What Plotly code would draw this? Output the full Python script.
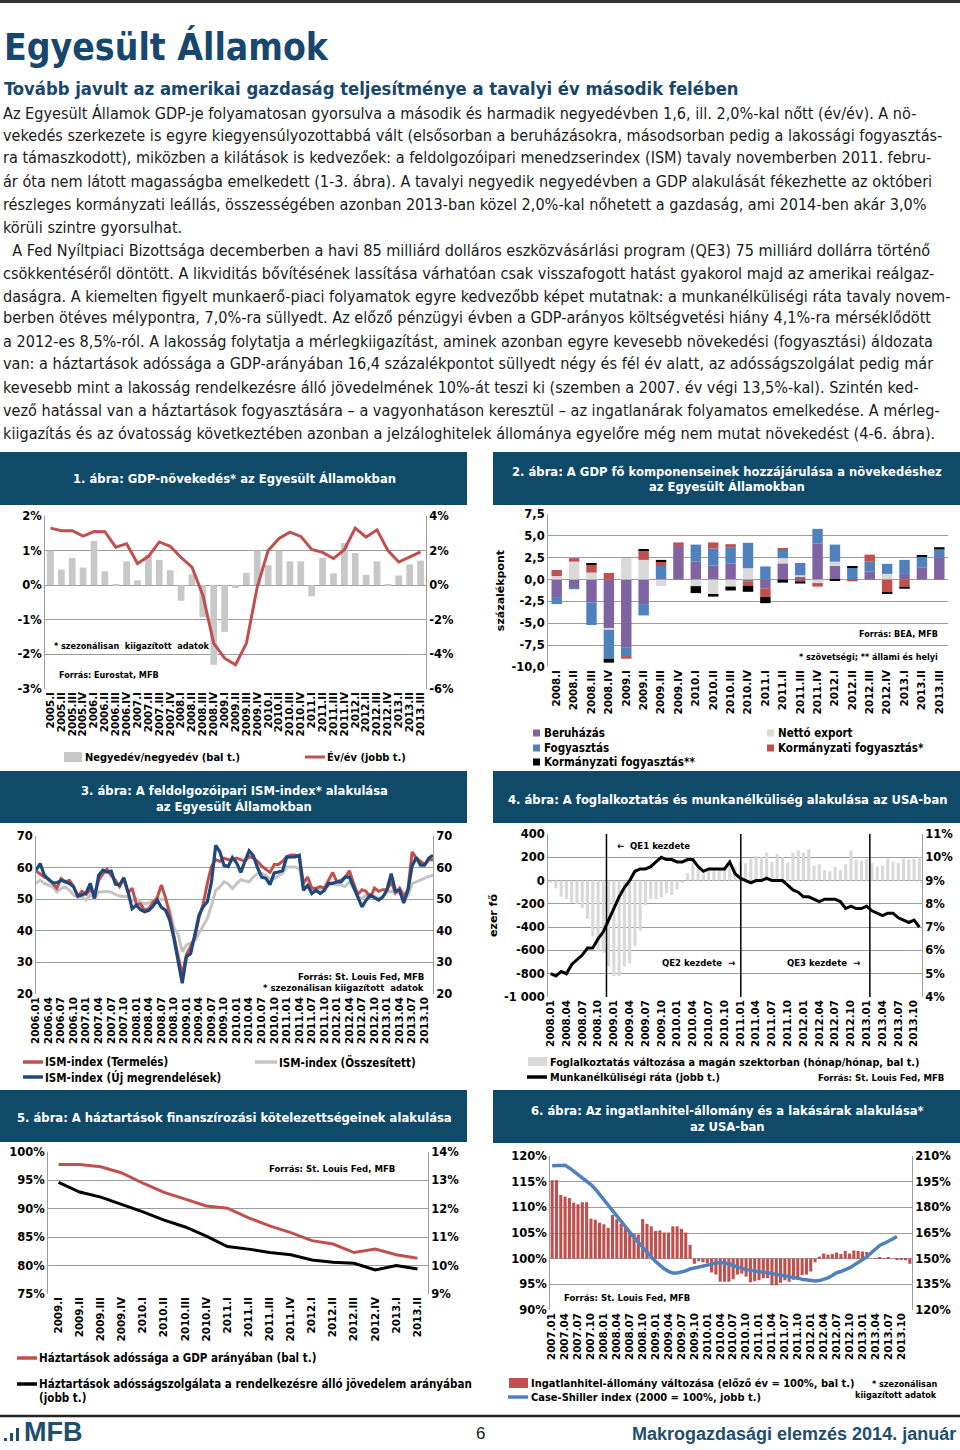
import plotly.graph_objects as go

W, H = 960, 1450
def X(p): return p / W
def Y(p): return 1 - p / H

# ------------------------------------------------------------------ data
# 1. GDP growth
gdp_quarters = ["2005.I","2005.II","2005.III","2005.IV","2006.I","2006.II","2006.III","2006.IV",
                "2007.I","2007.II","2007.III","2007.IV","2008.I","2008.II","2008.III","2008.IV",
                "2009.I","2009.II","2009.III","2009.IV","2010.I","2010.II","2010.III","2010.IV",
                "2011.I","2011.II","2011.III","2011.IV","2012.I","2012.II","2012.III","2012.IV",
                "2013.I","2013.II","2013.III"]
gdp_qoq = [1.0,0.45,0.79,0.51,1.28,0.40,0.03,0.69,0.14,0.88,0.73,0.43,-0.45,0.32,-0.92,-2.30,
           -1.35,-0.08,0.36,1.00,0.58,1.00,0.69,0.69,-0.32,0.79,0.34,1.22,0.93,0.30,0.69,0.02,
           0.28,0.60,0.71]
gdp_yoy = [3.3,3.15,3.15,2.84,3.1,3.09,2.2,2.4,1.25,1.67,2.5,2.25,1.6,1.05,-0.58,-3.36,
           -4.22,-4.6,-3.36,-0.1,2.0,2.7,3.07,2.82,2.07,1.9,1.54,2.05,3.3,2.78,3.2,2.0,
           1.34,1.63,1.92]

# 2. GDP components
comp_quarters = ["2008.I","2008.II","2008.III","2008.IV","2009.I","2009.II","2009.III","2009.IV",
                 "2010.I","2010.II","2010.III","2010.IV","2011.I","2011.II","2011.III","2011.IV",
                 "2012.I","2012.II","2012.III","2012.IV","2013.I","2013.II","2013.III"]
beruhazas = [-2.0,-0.9,-2.6,-5.6,-7.8,-2.8,0.1,3.85,2.05,1.6,1.85,-0.2,-1.0,1.85,0.4,4.1,
             1.55,0.0,0.9,0.0,0.65,1.4,2.55]
netto_export = [0.4,2.05,0.8,-0.15,2.45,2.25,-0.75,0.0,-0.75,-1.65,-0.8,1.3,0.0,0.6,0.1,-0.4,
                0.5,0.0,0.0,0.65,0.0,0.0,0.0]
fogyasztas = [-0.8,-0.2,-2.6,-3.3,-0.95,-1.3,1.45,0.0,1.95,1.95,1.85,2.9,1.5,0.95,1.4,1.7,
              1.95,1.4,1.15,1.15,1.6,1.2,0.9]
korm_szov = [0.7,0.4,0.9,0.75,-0.3,1.05,0.45,0.4,0.0,0.7,0.35,-0.5,-1.0,0.2,-0.2,-0.4,
             0.0,-0.2,0.8,-1.5,-0.8,0.0,0.0]
korm_allami = [0.0,0.0,0.1,-0.45,0.0,0.1,0.25,0.0,-0.8,-0.3,-0.45,-0.7,-0.7,-0.35,-0.25,0.0,
               -0.15,0.08,0.0,-0.15,-0.25,0.1,0.25]

# 3. ISM (monthly 2006.01 - 2013.12)
ism_ticklabels = ["2006.01","2006.04","2006.07","2006.10","2007.01","2007.04","2007.07","2007.10",
                  "2008.01","2008.04","2008.07","2008.10","2009.01","2009.04","2009.07","2009.10",
                  "2010.01","2010.04","2010.07","2010.10","2011.01","2011.04","2011.07","2011.10",
                  "2012.01","2012.04","2012.07","2012.10","2013.01","2013.04","2013.07","2013.10"]
ism_osszesitett = [55.0,56.0,55.0,54.4,53.9,52.3,53.4,53.9,52.8,51.3,50.7,50.8,
                   49.7,51.3,50.2,52.3,52.4,52.4,52.3,51.5,51.0,50.9,50.8,49.5,
                   50.2,49.0,48.6,48.8,49.5,50.0,50.0,49.8,46.5,41.0,38.9,33.4,
                   35.5,36.0,36.9,39.2,41.5,43.9,48.1,52.8,53.9,55.5,54.9,53.4,
                   54.9,56.2,55.8,55.5,57.0,58.1,58.2,57.6,56.2,56.5,57.5,58.1,
                   60.2,60.3,60.2,59.7,53.9,54.2,52.8,52.6,53.2,53.9,54.2,54.9,
                   54.5,54.5,54.0,55.5,53.4,50.7,50.2,51.3,51.2,50.9,50.2,50.9,
                   52.3,52.5,52.3,51.8,49.9,51.3,54.9,55.5,56.2,56.8,57.2,57.6]
ism_termeles = [59.0,58.0,57.0,56.5,55.0,53.5,56.5,55.5,56.0,54.0,51.0,52.5,
                51.5,53.0,51.5,56.0,58.0,59.5,57.5,56.0,54.0,56.5,52.0,53.5,
                48.5,48.5,46.5,47.0,49.0,50.5,54.5,50.5,45.0,38.0,32.0,26.0,
                32.5,35.0,38.0,44.0,48.5,55.0,60.5,62.5,62.0,63.0,62.5,62.5,
                63.0,62.5,62.0,63.5,63.0,62.0,60.5,59.5,58.5,61.0,61.0,62.0,
                63.5,64.0,64.0,63.5,55.0,57.0,53.5,53.5,54.0,53.5,56.0,58.5,
                55.5,56.0,57.0,59.0,55.0,51.5,53.0,52.5,50.5,53.5,52.5,53.0,
                53.0,55.5,52.0,53.5,51.0,53.0,65.0,63.0,62.0,61.0,62.5,62.5]
ism_uj_megrend = [59.2,61.3,57.6,56.2,55.2,55.2,56.0,55.5,55.0,53.9,51.0,51.3,
                  52.0,55.0,50.2,57.6,59.2,58.6,58.9,54.8,54.5,56.8,52.5,47.0,
                  48.1,46.7,46.0,46.5,47.8,49.7,47.4,46.5,43.4,37.6,30.7,23.4,
                  31.8,32.8,38.6,45.0,47.6,49.2,55.5,67.0,65.0,60.7,60.3,63.2,
                  61.5,58.5,62.0,65.3,63.8,60.0,57.0,56.6,54.6,58.3,58.6,59.0,
                  63.3,63.3,63.4,63.9,52.8,54.4,51.8,52.8,51.8,52.8,55.0,55.0,
                  55.5,55.5,57.0,57.0,53.9,50.2,47.6,49.7,51.3,50.5,49.7,50.7,
                  53.0,58.1,52.6,52.8,48.8,52.8,60.5,63.2,60.8,60.8,63.0,63.9]

# 4. Employment (monthly 2008.01 - 2013.11)
emp_ticklabels = ["2008.01","2008.04","2008.07","2008.10","2009.01","2009.04","2009.07","2009.10",
                  "2010.01","2010.04","2010.07","2010.10","2011.01","2011.04","2011.07","2011.10",
                  "2012.01","2012.04","2012.07","2012.10","2013.01","2013.04","2013.07","2013.10"]
foglalkoztatas = [-20,-67,-138,-158,-190,-201,-235,-330,-480,-610,-620,-740,
                  -820,-820,-740,-710,-560,-430,-210,-160,-160,-145,-110,-125,
                  -75,-20,65,200,140,60,90,90,105,100,140,120,
                  160,150,190,210,200,240,160,230,200,155,240,260,
                  240,270,130,140,90,80,120,90,140,260,180,170,
                  190,150,120,130,190,160,150,190,180,190,200]
munkanelkuli = [5.0,4.9,5.1,5.0,5.4,5.6,5.8,6.1,6.1,6.5,6.8,7.3,
                7.8,8.3,8.7,9.0,9.4,9.5,9.5,9.6,9.8,10.0,9.9,9.9,
                9.8,9.8,9.9,9.9,9.6,9.4,9.5,9.5,9.5,9.5,9.8,9.3,
                9.1,9.0,8.9,9.0,9.0,9.1,9.0,9.0,9.0,8.8,8.6,8.5,
                8.3,8.3,8.2,8.1,8.2,8.2,8.2,8.1,7.8,7.9,7.8,7.8,
                7.9,7.7,7.6,7.5,7.6,7.6,7.4,7.3,7.2,7.3,7.0]
qe_positions = [10.6, 36.1, 60.6]

# 5. Household debt
hh_quarters = ["2009.I","2009.II","2009.III","2009.IV","2010.I","2010.II","2010.III","2010.IV",
               "2011.I","2011.II","2011.III","2011.IV","2012.I","2012.II","2012.III","2012.IV",
               "2013.I","2013.II"]
hh_adossag = [97.8,97.8,97.4,96.3,94.5,92.9,91.7,90.5,90.1,88.4,87.0,85.8,84.4,83.8,82.3,82.9,81.9,81.3]
hh_adossagszolg = [12.93,12.59,12.41,12.15,11.89,11.60,11.36,11.04,10.67,10.58,10.46,10.38,
                   10.20,10.12,10.08,9.85,10.0,9.88]

# 6. Mortgage stock and house prices (monthly 2007.01 - 2013.12)
house_ticklabels = ["2007.01","2007.04","2007.07","2007.10","2008.01","2008.04","2008.07","2008.10",
                    "2009.01","2009.04","2009.07","2009.10","2010.01","2010.04","2010.07","2010.10",
                    "2011.01","2011.04","2011.07","2011.10","2012.01","2012.04","2012.07","2012.10",
                    "2013.01","2013.04","2013.07","2013.10"]
ingatlanhitel = [115.3,115.3,112.4,112.1,111.8,110.9,110.6,111.0,111.0,107.8,107.6,107.0,
                 106.7,106.0,108.5,107.7,106.8,106.0,105.1,104.9,104.7,107.7,106.8,106.3,
                 105.4,105.5,105.1,105.1,106.3,106.3,105.8,105.1,102.7,99.0,99.5,99.3,
                 99.1,97.3,96.9,95.5,95.5,95.5,96.0,96.9,97.1,96.5,95.4,95.6,
                 95.8,96.2,96.2,94.8,94.8,95.3,95.8,95.5,95.9,96.2,96.8,96.9,
                 97.5,99.3,100.4,101.0,100.8,100.9,101.2,100.9,101.5,101.0,101.6,101.5,
                 101.4,101.3,100.0,100.1,100.3,100.1,100.2,100.0,99.9,99.8,99.7,99.0]
case_shiller = [204.3,204.4,204.6,204.6,203.0,201.0,199.1,197.4,195.5,193.3,190.7,187.5,
                184.6,181.5,177.8,174.3,171.3,168.6,165.5,162.5,159.5,156.8,153.9,151.0,
                148.4,146.2,144.1,142.6,141.6,141.6,142.0,142.9,144.0,144.6,145.2,145.8,
                146.6,147.0,147.4,147.7,147.6,147.0,146.0,145.0,144.3,143.6,143.1,142.7,
                142.3,142.0,141.8,141.4,141.0,140.6,140.2,139.7,139.2,138.6,138.0,137.5,
                137.1,136.9,137.2,137.8,138.8,140.2,141.8,142.5,143.3,144.6,146.1,147.6,
                149.2,151.0,153.3,155.8,157.7,158.9,160.0,161.5,163.0]

body_lines = [
    "Az Egyesült Államok GDP-je folyamatosan gyorsulva a második és harmadik negyedévben 1,6, ill. 2,0%-kal nőtt (év/év). A nö-",
    "vekedés szerkezete is egyre kiegyensúlyozottabbá vált (elsősorban a beruházásokra, másodsorban pedig a lakossági fogyasztás-",
    "ra támaszkodott), miközben a kilátások is kedvezőek: a feldolgozóipari menedzserindex (ISM) tavaly novemberben 2011. febru-",
    "ár óta nem látott magasságba emelkedett (1-3. ábra). A tavalyi negyedik negyedévben a GDP alakulását fékezhette az októberi",
    "részleges kormányzati leállás, összességében azonban 2013-ban közel 2,0%-kal nőhetett a gazdaság, ami 2014-ben akár 3,0%",
    "körüli szintre gyorsulhat.",
    "  A Fed Nyíltpiaci Bizottsága decemberben a havi 85 milliárd dolláros eszközvásárlási program (QE3) 75 milliárd dollárra történő",
    "csökkentéséről döntött. A likviditás bővítésének lassítása várhatóan csak visszafogott hatást gyakorol majd az amerikai reálgaz-",
    "daságra. A kiemelten figyelt munkaerő-piaci folyamatok egyre kedvezőbb képet mutatnak: a munkanélküliségi ráta tavaly novem-",
    "berben ötéves mélypontra, 7,0%-ra süllyedt. Az előző pénzügyi évben a GDP-arányos költségvetési hiány 4,1%-ra mérséklődött",
    "a 2012-es 8,5%-ról. A lakosság folytatja a mérlegkiigazítást, aminek azonban egyre kevesebb növekedési (fogyasztási) áldozata",
    "van: a háztartások adóssága a GDP-arányában 16,4 százalékpontot süllyedt négy és fél év alatt, az adósságszolgálat pedig már",
    "kevesebb mint a lakosság rendelkezésre álló jövedelmének 10%-át teszi ki (szemben a 2007. év végi 13,5%-kal). Szintén ked-",
    "vező hatással van a háztartások fogyasztására – a vagyonhatáson keresztül – az ingatlanárak folyamatos emelkedése. A mérleg-",
    "kiigazítás és az óvatosság következtében azonban a jelzáloghitelek állománya egyelőre még nem mutat növekedést (4-6. ábra).",
]
body_y = [113, 136, 158, 181, 204, 227, 250, 273, 296, 318, 341, 364, 387, 410, 433]

# ------------------------------------------------------------------ style
BANNER = "#0f4a69"
HEAD = "#17476c"
GRID = "#9c9c9c"
RED = "#c0504d"
CF = "DejaVu Sans, Verdana, sans-serif"
COND = "DejaVu Sans Condensed, DejaVu Sans, sans-serif"
SANS = "Liberation Sans, Arial, sans-serif"

shapes, annotations = [], []

def txt(x, y, s, size=11, color="black", anchor="left", family=COND, bold=True):
    annotations.append(dict(x=X(x), y=Y(y), xref="paper", yref="paper",
                            text=("<b>%s</b>" % s) if bold else s, showarrow=False,
                            xanchor=anchor, yanchor="middle", align=anchor,
                            font=dict(size=size, color=color, family=family)))

def rect(x0, y0, x1, y1, color):
    shapes.append(dict(type="rect", xref="paper", yref="paper", x0=X(x0), x1=X(x1),
                       y0=Y(y1), y1=Y(y0), fillcolor=color, line=dict(width=0), layer="below"))

def hline(x0, x1, y, color, width):
    shapes.append(dict(type="line", xref="paper", yref="paper", x0=X(x0), x1=X(x1),
                       y0=Y(y), y1=Y(y), line=dict(color=color, width=width)))

def banner(x0, y0, x1, y1, lines, ys, cx):
    rect(x0, y0, x1, y1, BANNER)
    for s, yy in zip(lines, ys):
        txt(cx, yy, s, size=12.9, color="white", anchor="center")

def bold_list(lst):
    return ["<b>%s</b>" % s for s in lst]

def xcat(domain, anchor, rng, tickvals, ticktext):
    return dict(domain=[X(domain[0]), X(domain[1])], anchor=anchor, range=rng,
                tickmode="array", tickvals=tickvals, ticktext=bold_list(ticktext),
                tickangle=-90, tickfont=dict(size=10.3, family=CF, color="black"),
                showgrid=False, zeroline=False, showline=False, ticks="", automargin=False)

def yleft(domain, anchor, rng, vals, texts, title=None):
    d = dict(domain=[Y(domain[1]), Y(domain[0])], anchor=anchor, range=rng,
             tickmode="array", tickvals=vals, ticktext=bold_list(texts),
             tickfont=dict(size=11.5, family=CF, color="black"),
             showgrid=True, gridcolor=GRID, gridwidth=1, zeroline=False,
             showline=True, linecolor=GRID, linewidth=1, ticks="", automargin=False)
    if title:
        d["title"] = dict(text="<b>%s</b>" % title, font=dict(size=11, family=CF, color="black"), standoff=4)
    return d

def yright(overlay, anchor, rng, vals, texts):
    return dict(overlaying=overlay, side="right", anchor=anchor, range=rng,
                tickmode="array", tickvals=vals, ticktext=bold_list(texts),
                tickfont=dict(size=11.5, family=CF, color="black"),
                showgrid=False, zeroline=False, showline=True, linecolor=GRID, linewidth=1,
                ticks="", automargin=False)

fig = go.Figure()

# ------------------------------------------------------------------ header
hline(0, 960, 1.5, "#333333", 3)
txt(2, 47, "Egyesült Államok", size=37, color=HEAD)
txt(2, 89, "Tovább javult az amerikai gazdaság teljesítménye a tavalyi év második felében", size=18.3, color=HEAD)
for s, yy in zip(body_lines, body_y):
    txt(1, yy, s, size=16.1, color="#1a1a1a", bold=False)

# ------------------------------------------------------------------ chart 1
banner(0, 452, 467, 505, ["1. ábra: GDP-növekedés* az Egyesült Államokban"], [479], 234)
idx1 = list(range(len(gdp_quarters)))
fig.add_trace(go.Bar(x=idx1, y=gdp_qoq, xaxis="x", yaxis="y", marker=dict(color="#c8c8c8", line=dict(width=0)), width=0.62))
fig.add_trace(go.Scatter(x=idx1, y=gdp_yoy, xaxis="x", yaxis="y2", mode="lines", line=dict(color=RED, width=3)))
txt(52, 646, "* szezonálisan  kiigazított  adatok", size=9)
txt(57, 675, "Forrás: Eurostat, MFB", size=9)
rect(64, 752, 82, 762, "#c8c8c8")
txt(83, 757, "Negyedév/negyedév (bal t.)", size=11)
hline(305, 325, 757, RED, 3)
txt(325, 757, "Év/év (jobb t.)", size=11)

# ------------------------------------------------------------------ chart 2
banner(493, 452, 960, 505, ["2. ábra: A GDP fő komponenseinek hozzájárulása a növekedéshez",
                            "az Egyesült Államokban"], [471, 487], 727)
idx2 = list(range(len(comp_quarters)))
for vals, col in [(beruhazas, "#8064a2"), (netto_export, "#d9d9d9"), (fogyasztas, "#4f81bd"),
                  (korm_szov, RED), (korm_allami, "#000000")]:
    fig.add_trace(go.Bar(x=idx2, y=vals, xaxis="x2", yaxis="y3", width=0.6,
                         marker=dict(color=col, line=dict(width=0))))
txt(940, 634, "Forrás: BEA, MFB", size=9, anchor="right")
txt(940, 657, "* szövetségi; ** állami és helyi", size=9, anchor="right")
leg2 = [(533, 733, "#8064a2", "Beruházás"), (767, 733, "#d9d9d9", "Nettó export"),
        (533, 748, "#4f81bd", "Fogyasztás"), (767, 748, RED, "Kormányzati fogyasztás*"),
        (533, 762, "#000000", "Kormányzati fogyasztás**")]
for lx, ly, col, lab in leg2:
    rect(lx, ly - 3.5, lx + 7, ly + 3.5, col)
    txt(lx + 9, ly, lab, size=11.5)

# ------------------------------------------------------------------ chart 3
banner(0, 771, 467, 823, ["3. ábra: A feldolgozóipari ISM-index* alakulása", "az Egyesült Államokban"], [790, 806], 234)
idx3 = list(range(len(ism_osszesitett)))
fig.add_trace(go.Scatter(x=idx3, y=ism_osszesitett, xaxis="x3", yaxis="y4", mode="lines", line=dict(color="#c4c4c4", width=3)))
fig.add_trace(go.Scatter(x=idx3, y=ism_termeles, xaxis="x3", yaxis="y4", mode="lines", line=dict(color=RED, width=3)))
fig.add_trace(go.Scatter(x=idx3, y=ism_uj_megrend, xaxis="x3", yaxis="y5", mode="lines", line=dict(color="#1f497d", width=3.2)))
txt(426, 976, "Forrás: St. Louis Fed, MFB", size=9.5, anchor="right")
txt(426, 987, "* szezonálisan kiigazított  adatok", size=9.5, anchor="right")
hline(23, 43, 1062, RED, 3.5)
txt(43, 1062, "ISM-index (Termelés)", size=11.5)
hline(255, 277, 1062, "#c4c4c4", 3.5)
txt(277, 1062, "ISM-index (Összesített)", size=11.5)
hline(23, 43, 1077, "#1f497d", 3.5)
txt(43, 1077, "ISM-index (Új megrendelések)", size=11.5)

# ------------------------------------------------------------------ chart 4
banner(493, 771, 960, 823, ["4. ábra: A foglalkoztatás és munkanélküliség alakulása az USA-ban"], [799], 727)
idx4 = list(range(len(munkanelkuli)))
fig.add_trace(go.Bar(x=idx4, y=foglalkoztatas, xaxis="x4", yaxis="y6", width=0.6,
                     marker=dict(color="#d9d9d9", line=dict(width=0))))
fig.add_trace(go.Scatter(x=idx4, y=munkanelkuli, xaxis="x4", yaxis="y7", mode="lines", line=dict(color="black", width=3)))
for q in qe_positions:
    shapes.append(dict(type="line", xref="x4", yref="y6 domain", x0=q, x1=q, y0=0, y1=1,
                       line=dict(color="black", width=1.5), layer="above"))
txt(615, 845, "←  QE1 kezdete", size=9.5)
txt(660, 963, "QE2 kezdete  →", size=9.5)
txt(785, 963, "QE3 kezdete  →", size=9.5)
rect(528, 1057, 547, 1066, "#d9d9d9")
txt(548, 1062, "Foglalkoztatás változása a magán szektorban (hónap/hónap, bal t.)", size=10.8)
hline(527, 547, 1077, "black", 3.5)
txt(548, 1077, "Munkanélküliségi ráta (jobb t.)", size=10.8)
txt(946, 1077, "Forrás: St. Louis Fed, MFB", size=9.5, anchor="right")

# ------------------------------------------------------------------ chart 5
banner(0, 1090, 467, 1142, ["5. ábra: A háztartások finanszírozási kötelezettségeinek alakulása"], [1117], 234)
idx5 = list(range(len(hh_quarters)))
fig.add_trace(go.Scatter(x=idx5, y=hh_adossag, xaxis="x5", yaxis="y8", mode="lines", line=dict(color=RED, width=3)))
fig.add_trace(go.Scatter(x=idx5, y=hh_adossagszolg, xaxis="x5", yaxis="y9", mode="lines", line=dict(color="black", width=3)))
txt(267, 1168, "Forrás: St. Louis Fed, MFB", size=9.5)
hline(17, 37, 1358, RED, 3.5)
txt(37, 1358, "Háztartások adóssága a GDP arányában (bal t.)", size=11.5)
hline(17, 37, 1384, "black", 3.5)
txt(37, 1384, "Háztartások adósságszolgálata a rendelkezésre álló jövedelem arányában", size=11.5)
txt(37, 1398, "(jobb t.)", size=11.5)

# ------------------------------------------------------------------ chart 6
banner(493, 1090, 960, 1143, ["6. ábra: Az ingatlanhitel-állomány és a lakásárak alakulása*", "az USA-ban"], [1110, 1126], 727)
idx6 = list(range(len(ingatlanhitel)))
fig.add_trace(go.Bar(x=idx6, y=[v - 100 for v in ingatlanhitel], base=100, xaxis="x6", yaxis="y10", width=0.72,
                     marker=dict(color=RED, line=dict(width=0))))
fig.add_trace(go.Scatter(x=list(range(len(case_shiller))), y=case_shiller, xaxis="x6", yaxis="y11", mode="lines",
                         line=dict(color="#4f81bd", width=3.5)))
txt(562, 1297, "Forrás: St. Louis Fed, MFB", size=9.5)
rect(509, 1378, 528, 1388, RED)
txt(529, 1383, "Ingatlanhitel-állomány változása (előző év = 100%, bal t.)", size=11)
hline(508, 528, 1397, "#4f81bd", 3.5)
txt(529, 1397, "Case-Shiller index (2000 = 100%, jobb t.)", size=11)
txt(939, 1384, "* szezonálisan", size=9, anchor="right")
txt(939, 1395, "kiigazított adatok", size=9, anchor="right")

# ------------------------------------------------------------------ footer
hline(0, 960, 1416, "#222222", 2.5)
for bx, bh in [(4, 3), (10, 8), (16, 13)]:
    rect(bx, 1441 - bh, bx + 3, 1441, "#1d4e6e")
txt(22, 1432, "MFB", size=27, color="#1d4e6e", family=SANS)
txt(480, 1433, "6", size=17, color="#222222", family=SANS, anchor="center", bold=False)
txt(958, 1434, "Makrogazdasági elemzés 2014. január", size=18, color="#1d4e6e", family=SANS, anchor="right")

# ------------------------------------------------------------------ layout / axes
pct = lambda lst: ["%d%%" % v for v in lst]
fig.update_layout(
    width=W, height=H, margin=dict(l=0, r=0, t=0, b=0, pad=0, autoexpand=False),
    paper_bgcolor="white", plot_bgcolor="white", showlegend=False, barmode="relative",
    shapes=shapes, annotations=annotations,
    xaxis=xcat((45, 426), "y", [-0.5, 34.5], idx1, gdp_quarters),
    yaxis=yleft((516, 689), "x", [-3, 2], [-3, -2, -1, 0, 1, 2], pct([-3, -2, -1, 0, 1, 2])),
    yaxis2=yright("y", "x", [-6, 4], [-6, -4, -2, 0, 2, 4], pct([-6, -4, -2, 0, 2, 4])),
    xaxis2=xcat((548, 948), "y3", [-0.5, 22.5], idx2, comp_quarters),
    yaxis3=yleft((514, 667), "x2", [-10, 7.5], [-10, -7.5, -5, -2.5, 0, 2.5, 5, 7.5],
                 ["-10,0", "-7,5", "-5,0", "-2,5", "0,0", "2,5", "5,0", "7,5"], title="százalékpont"),
    xaxis3=xcat((36, 433), "y4", [0, 95], list(range(0, 96, 3)), ism_ticklabels),
    yaxis4=yleft((836, 994), "x3", [20, 70], [20, 30, 40, 50, 60, 70], ["20", "30", "40", "50", "60", "70"]),
    yaxis5=yright("y4", "x3", [20, 70], [20, 30, 40, 50, 60, 70], ["20", "30", "40", "50", "60", "70"]),
    xaxis4=xcat((548, 922), "y6", [-0.5, 70.5], list(range(0, 71, 3)), emp_ticklabels),
    yaxis6=yleft((834, 997), "x4", [-1000, 400], [-1000, -800, -600, -400, -200, 0, 200, 400],
                 ["-1 000", "-800", "-600", "-400", "-200", "0", "200", "400"], title="ezer fő"),
    yaxis7=yright("y6", "x4", [4, 11], [4, 5, 6, 7, 8, 9, 10, 11], pct([4, 5, 6, 7, 8, 9, 10, 11])),
    xaxis5=xcat((48, 428), "y8", [-0.5, 17.5], idx5, hh_quarters),
    yaxis8=yleft((1152, 1294), "x5", [75, 100], [75, 80, 85, 90, 95, 100], pct([75, 80, 85, 90, 95, 100])),
    yaxis9=yright("y8", "x5", [9, 14], [9, 10, 11, 12, 13, 14], pct([9, 10, 11, 12, 13, 14])),
    xaxis6=xcat((550, 912), "y10", [-0.5, 83.5], list(range(0, 84, 3)), house_ticklabels),
    yaxis10=yleft((1156, 1310), "x6", [90, 120], [90, 95, 100, 105, 110, 115, 120], pct([90, 95, 100, 105, 110, 115, 120])),
    yaxis11=yright("y10", "x6", [120, 210], [120, 135, 150, 165, 180, 195, 210], pct([120, 135, 150, 165, 180, 195, 210])),
)

fig.write_html("out.html",
               config={"displayModeBar": False},
               post_script="document.documentElement.style.margin='0';document.body.style.margin='0';"
                           "document.body.style.padding='0';document.documentElement.style.overflow='hidden';"
                           "document.body.style.overflow='hidden';")
